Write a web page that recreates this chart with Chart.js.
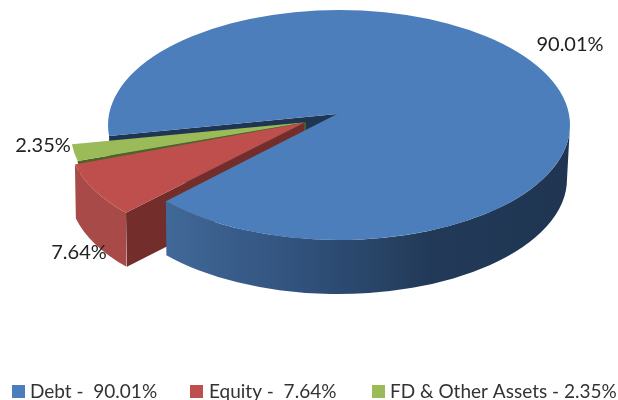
<!DOCTYPE html>
<html>
<head>
<meta charset="utf-8">
<style>
  html, body { margin: 0; padding: 0; background: #fff; overflow: hidden; }
  canvas { display: block; filter: blur(0.45px); }
</style>
<script src="https://cdn.jsdelivr.net/npm/chart.js@4/dist/chart.umd.min.js"></script>
</head>
<body>
<canvas id="myChart" width="618" height="400"></canvas>
<script>
  var categories = ["Debt", "Equity", "FD & Other Assets"];
  var shares = [90.01, 7.64, 2.35];
  var legendLabels = ["Debt -  90.01%", "Equity -  7.64%", "FD & Other Assets - 2.35%"];
  var sliceColors = ["#4c7ebb", "#be4f4c", "#9bbb59"];
  var sideColors = ["#1f3552", "#732e2c", "#4f6228"];
  var rimColors = ["#1f3552", "#a84a47", "#4f6228"];
  var sliceOffsets = [0, 80, 67];

  // the flat pie is stretched onto the page as a tilted ellipse
  var stage = { x: 339, y: 125, rx: 231, ry: 115, depth: 54 };
  // perspective: the tip sits off the ellipse centre, slices are nudged a little
  var tipShift = [[-2, -11], [5, -14], [4, -11]];
  var nudge = [[0, 0], [1, 1], [1, 5]];
  var labelSpots = [[570, 45], [79, 253], [43, 146]];
  var legendBoxX = [12, 190, 372];
  var legendTextX = [30, 209, 390];

  function slicePlace(el, i) {
    var mid = (el.startAngle + el.endAngle) / 2;
    var off = (el.options.offset || 0) / 4;
    var sx = stage.rx / el.outerRadius;
    var sy = stage.ry / el.outerRadius;
    var cx = stage.x + Math.cos(mid) * off * sx + nudge[i][0];
    var cy = stage.y + Math.sin(mid) * off * sy + nudge[i][1];
    return { cx: cx, cy: cy, tx: cx + tipShift[i][0], ty: cy + tipShift[i][1] };
  }

  function rimPoint(p, angle) {
    return [p.cx + Math.cos(angle) * stage.rx, p.cy + Math.sin(angle) * stage.ry];
  }

  function drawTop(ctx, el, p, color) {
    ctx.beginPath();
    ctx.moveTo(p.tx, p.ty);
    ctx.ellipse(p.cx, p.cy, stage.rx, stage.ry, 0, el.startAngle, el.endAngle);
    ctx.closePath();
    ctx.fillStyle = color;
    ctx.fill();
  }

  function drawRim(ctx, p, from, to, fill) {
    ctx.beginPath();
    ctx.ellipse(p.cx, p.cy, stage.rx, stage.ry, 0, from, to);
    ctx.ellipse(p.cx - 1, p.cy + stage.depth, stage.rx - 2, stage.ry, 0, to, from, true);
    ctx.closePath();
    ctx.fillStyle = fill;
    ctx.fill();
  }

  function drawCut(ctx, p, angle, color, depth) {
    var edge = rimPoint(p, angle);
    ctx.beginPath();
    ctx.moveTo(p.tx, p.ty);
    ctx.lineTo(edge[0], edge[1]);
    ctx.lineTo(edge[0] + 1, edge[1] + depth);
    ctx.lineTo(p.tx, p.ty + depth);
    ctx.closePath();
    ctx.fillStyle = color;
    ctx.fill();
  }

  var tiltedPie = {
    id: "tiltedPie",
    beforeDatasetsDraw: function (chart) {
      var ctx = chart.ctx;
      var arcs = chart.getDatasetMeta(0).data;
      var places = arcs.map(function (el, i) { return slicePlace(el, i); });
      var debt = arcs[0], equity = arcs[1], other = arcs[2];

      ctx.save();
      // back to front
      drawCut(ctx, places[0], debt.startAngle, sideColors[0], stage.depth);
      drawCut(ctx, places[2], other.startAngle, sideColors[2], 12);
      drawTop(ctx, other, places[2], sliceColors[2]);
      drawRim(ctx, places[1], equity.startAngle, equity.endAngle, rimColors[1]);
      drawCut(ctx, places[1], equity.startAngle, sideColors[1], stage.depth);
      drawTop(ctx, equity, places[1], sliceColors[1]);

      var shade = ctx.createLinearGradient(168, 0, 570, 0);
      shade.addColorStop(0, "#406898");
      shade.addColorStop(0.35, "#30507a");
      shade.addColorStop(0.65, "#223a58");
      shade.addColorStop(1, sideColors[0]);
      drawRim(ctx, places[0], Math.PI * 2, debt.endAngle, shade);
      drawTop(ctx, debt, places[0], sliceColors[0]);

      ctx.fillStyle = "#222";
      ctx.font = "20px Lato";
      ctx.textAlign = "center";
      ctx.textBaseline = "middle";
      shares.forEach(function (v, i) {
        ctx.fillText(v.toFixed(2) + "%", labelSpots[i][0], labelSpots[i][1]);
      });

      // legend row sits tight against the bottom edge
      ctx.font = "19px Lato";
      ctx.textAlign = "left";
      ctx.textBaseline = "alphabetic";
      legendLabels.forEach(function (text, i) {
        ctx.fillStyle = sliceColors[i];
        ctx.fillRect(legendBoxX[i], 385, 13, 13);
        ctx.fillStyle = "#333";
        ctx.fillText(text, legendTextX[i], 398);
      });
      ctx.restore();
      return false;
    }
  };

  var ctx = document.getElementById("myChart").getContext("2d");
  var myChart = new Chart(ctx, {
    type: "pie",
    data: {
      labels: categories,
      datasets: [{
        data: shares,
        backgroundColor: sliceColors,
        borderWidth: 0,
        offset: sliceOffsets
      }]
    },
    options: {
      responsive: false,
      animation: false,
      radius: 100,
      rotation: 264.5,
      layout: { padding: 0 },
      plugins: {
        tooltip: { enabled: false },
        legend: { display: false }
      }
    },
    plugins: [tiltedPie]
  });
</script>
</body>
</html>
